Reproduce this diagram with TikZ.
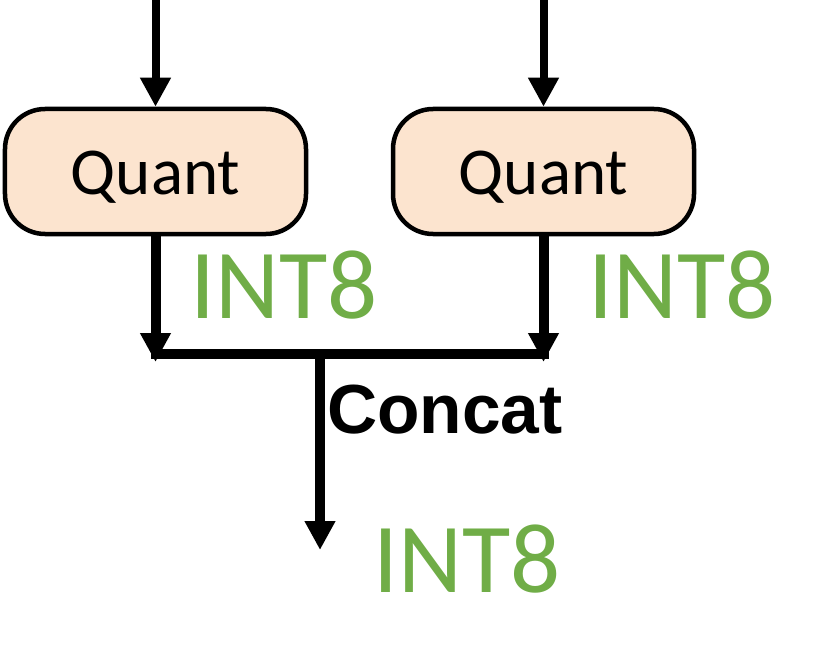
\documentclass[tikz,border=0pt]{standalone}
\usepackage{fontspec}
\setmainfont{Carlito}
\newfontfamily\arialfont{Liberation Sans}
\usetikzlibrary{arrows.meta}
\definecolor{boxfill}{HTML}{FCE4CF}
\definecolor{intgreen}{HTML}{70AD47}
\newcommand{\lowertxt}[1]{\raisebox{-6bp}[\height][\depth]{#1}}
\tikzset{
  quantbox/.style={draw=black, line width=4.5bp, fill=boxfill, rounded corners=40bp,
    minimum width=301bp, minimum height=125bp, inner sep=0pt,
    font=\fontsize{67bp}{72bp}\selectfont},
  flow/.style={line width=10bp, -{Triangle[width=29bp,length=29bp]}},
  flowin/.style={line width=8bp, -{Triangle[width=29bp,length=29bp]}},
  plain/.style={line width=10bp},
  dtype/.style={text=intgreen, anchor=base west, inner sep=0pt,
    font=\fontsize{99bp}{100bp}\selectfont},
  oplabel/.style={anchor=base west, inner sep=0pt,
    font=\arialfont\bfseries\fontsize{69.5bp}{72bp}\selectfont}
}
\begin{document}
\begin{tikzpicture}[x=1bp,y=-1bp]
\useasboundingbox (0,0) rectangle (830,661);
\node[quantbox] (q1) at (155.5,171.5) {\lowertxt{Quant}};
\node[quantbox] (q2) at (543.5,171.5) {\lowertxt{Quant}};
\coordinate (in1) at (155.5,0);
\coordinate (in2) at (543.5,0);
\coordinate (e1) at (155.5,362);
\coordinate (e2) at (543.5,362);
\coordinate (hl) at (150.5,354);
\coordinate (hr) at (548.5,354);
\coordinate (cj) at (320,354);
\coordinate (out) at (320,550);
\draw[flowin] (in1) -- (q1.north);
\draw[flowin] (in2) -- (q2.north);
\draw[flow] (q1.south) -- (e1);
\draw[flow] (q2.south) -- (e2);
\draw[plain] (hl) -- (hr);
\draw[flow] (cj) -- (out);
\node[dtype] (t1) at (190,318) {INT8};
\node[dtype] (t2) at (588,318) {INT8};
\node[dtype] (t3) at (373,592) {INT8};
\node[oplabel] (cc) at (327,433) {Concat};
\end{tikzpicture}
\end{document}
